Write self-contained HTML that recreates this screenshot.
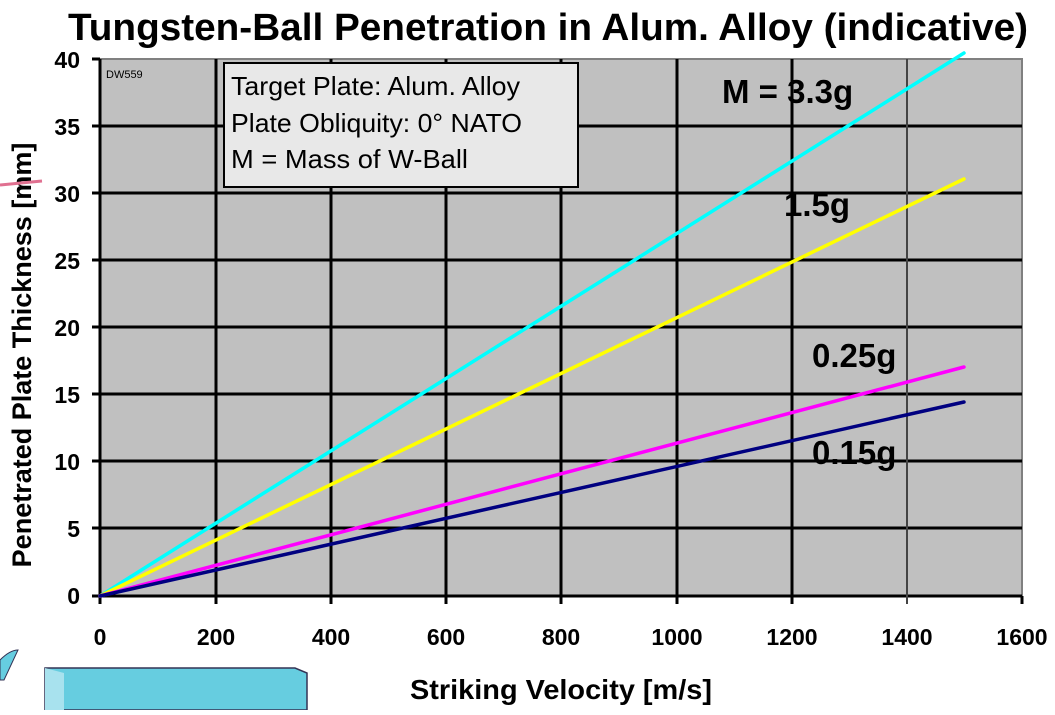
<!DOCTYPE html>
<html><head><meta charset="utf-8"><style>
body{margin:0;background:#fff;width:1055px;height:710px;overflow:hidden;font-family:"Liberation Sans",Arial,sans-serif}
</style></head><body>
<svg width="1055" height="710" xmlns="http://www.w3.org/2000/svg" font-family="Liberation Sans, Arial, sans-serif">
<rect width="1055" height="710" fill="#fff"/>
<text x="548" y="40" text-anchor="middle" font-size="38" font-weight="bold" textLength="960" lengthAdjust="spacingAndGlyphs">Tungsten-Ball Penetration in Alum. Alloy (indicative)</text>
<rect x="100" y="59" width="922" height="537" fill="#c0c0c0" stroke="#808080" stroke-width="2"/>
<g stroke="#000" stroke-width="3">
<line x1="92" y1="126" x2="1022" y2="126"/><line x1="92" y1="193" x2="1022" y2="193"/>
<line x1="92" y1="260" x2="1022" y2="260"/><line x1="92" y1="327" x2="1022" y2="327"/>
<line x1="92" y1="394" x2="1022" y2="394"/><line x1="92" y1="461" x2="1022" y2="461"/>
<line x1="92" y1="528" x2="1022" y2="528"/><line x1="92" y1="59" x2="100" y2="59"/>
<line x1="216" y1="59" x2="216" y2="604"/><line x1="331" y1="59" x2="331" y2="604"/>
<line x1="446" y1="59" x2="446" y2="604"/><line x1="561" y1="59" x2="561" y2="604"/>
<line x1="677" y1="59" x2="677" y2="604"/><line x1="792" y1="59" x2="792" y2="604"/>
<line x1="100" y1="59" x2="100" y2="604"/><line x1="92" y1="596" x2="1022" y2="596"/>
<line x1="1022" y1="596" x2="1022" y2="604"/>
</g>
<line x1="907" y1="59" x2="907" y2="604" stroke="#444" stroke-width="2"/>
<text x="106" y="78" font-size="11">DW559</text>
<rect x="224" y="63" width="354" height="124" fill="#e8e8e8" stroke="#000" stroke-width="2"/>
<text x="231" y="95" font-size="26" textLength="289" lengthAdjust="spacingAndGlyphs">Target Plate: Alum. Alloy</text>
<text x="231" y="132" font-size="26" textLength="291" lengthAdjust="spacingAndGlyphs">Plate Obliquity: 0° NATO</text>
<text x="231" y="168" font-size="26" textLength="237" lengthAdjust="spacingAndGlyphs">M = Mass of W-Ball</text>
<g stroke-width="3.5" stroke-linecap="round">
<line x1="100" y1="596" x2="964" y2="53" stroke="#00ffff"/>
<line x1="100" y1="596" x2="964" y2="179" stroke="#ffff00"/>
<line x1="100" y1="596" x2="964" y2="367" stroke="#ff00ff"/>
<line x1="100" y1="596" x2="964" y2="402" stroke="#000080"/>
</g>
<g font-size="33" font-weight="bold">
<text x="722" y="103">M = 3.3g</text>
<text x="784" y="216">1.5g</text>
<text x="812" y="367">0.25g</text>
<text x="812" y="464">0.15g</text>
</g>
<g font-size="23" font-weight="bold" text-anchor="end">
<text x="80" y="68">40</text><text x="80" y="135">35</text><text x="80" y="202">30</text>
<text x="80" y="269">25</text><text x="80" y="336">20</text><text x="80" y="403">15</text>
<text x="80" y="470">10</text><text x="80" y="537">5</text><text x="80" y="604">0</text>
</g>
<g font-size="23" font-weight="bold" text-anchor="middle">
<text x="100" y="645">0</text><text x="216" y="645">200</text><text x="331" y="645">400</text>
<text x="446" y="645">600</text><text x="561" y="645">800</text><text x="677" y="645">1000</text>
<text x="792" y="645">1200</text><text x="907" y="645">1400</text><text x="1022" y="645">1600</text>
</g>
<text x="561" y="699" text-anchor="middle" font-size="28" font-weight="bold" textLength="302" lengthAdjust="spacingAndGlyphs">Striking Velocity [m/s]</text>
<text transform="translate(31,355) rotate(-90)" text-anchor="middle" font-size="27" font-weight="bold">Penetrated Plate Thickness [mm]</text>
<path d="M0 185 L42 181" stroke="#e07090" stroke-width="3"/>
<polygon points="45,668 295,668 307,673 307,710 45,710" fill="#66cde0" stroke="#335" stroke-width="1.5"/>
<polygon points="45,668 64,673 64,710 45,710" fill="#a8e2ee"/>
<path d="M0 660 Q10 650 18 650 L4 680 L0 680 Z" fill="#66cde0" stroke="#335"/>
</svg>
</body></html>
